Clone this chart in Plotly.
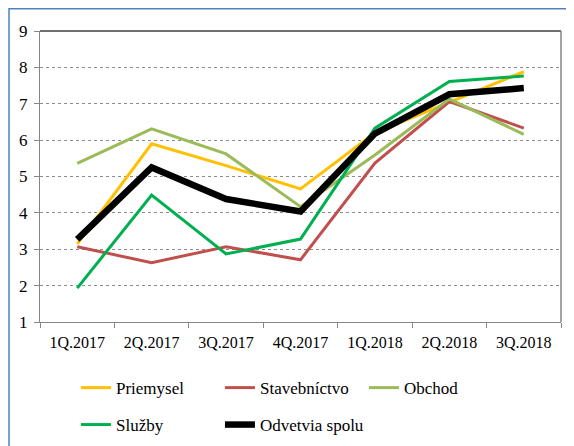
import plotly.graph_objects as go

categories = ["1Q.2017", "2Q.2017", "3Q.2017", "4Q.2017", "1Q.2018", "2Q.2018", "3Q.2018"]
priemysel = [3.15, 5.90, 5.30, 4.66, 6.20, 7.05, 7.88]
stavebnictvo = [3.07, 2.63, 3.07, 2.71, 5.37, 7.06, 6.33]
obchod = [5.36, 6.31, 5.62, 4.17, 5.59, 7.13, 6.16]
sluzby = [1.93, 4.49, 2.87, 3.28, 6.33, 7.61, 7.76]
spolu = [3.27, 5.25, 4.38, 4.04, 6.18, 7.26, 7.43]

series = [
    ("Priemysel", priemysel, "#FFC000", 3, "legend"),
    ("Stavebníctvo", stavebnictvo, "#C0504D", 3, "legend"),
    ("Obchod", obchod, "#9BBB59", 3, "legend"),
    ("Služby", sluzby, "#00B050", 3, "legend2"),
    ("Odvetvia spolu", spolu, "#000000", 6.5, "legend2"),
]

FONT = "Liberation Serif"

fig = go.Figure()
for name, vals, color, width, leg in series:
    fig.add_trace(go.Scatter(
        x=categories, y=vals, name=name, mode="lines",
        line=dict(color=color, width=width),
        legend=leg,
    ))

legend_common = dict(
    orientation="h", xanchor="left", yanchor="middle",
    entrywidth=99, entrywidthmode="pixels",
    font=dict(family=FONT, size=17, color="#000000"),
    bgcolor="rgba(0,0,0,0)", borderwidth=0, itemwidth=30,
)

# the page body adds an 8px offset, so margins are reduced by 8px on left/top
fig.update_layout(
    template="none",
    width=574, height=446,
    margin=dict(l=32, r=21, t=23, b=132, autoexpand=False),
    paper_bgcolor="#FFFFFF", plot_bgcolor="#FFFFFF",
    font=dict(family=FONT, size=16, color="#000000"),
    showlegend=True,
    legend=dict(x=0.069, y=-0.227, **legend_common),
    legend2=dict(x=0.069, y=-0.354, **legend_common),
)
fig.update_xaxes(
    type="category", tickson="boundaries", ticks="outside", ticklen=5,
    tickcolor="#868686", showline=True, linecolor="#868686", linewidth=1,
    showgrid=False, tickfont=dict(family=FONT, size=16, color="#000000"),
    ticklabelstandoff=6, range=[-0.5, 6.5], automargin=False, zeroline=False,
)
fig.update_yaxes(
    range=[1, 9], dtick=1, ticks="outside", ticklen=5, tickcolor="#868686",
    showline=True, linecolor="#868686", linewidth=1,
    showgrid=True, gridcolor="#8C8C8C", griddash="dot", gridwidth=1,
    tickfont=dict(family=FONT, size=17, color="#000000"), ticklabelstandoff=3,
    zeroline=False, automargin=False,
)
fig.update_layout(shapes=[
    dict(type="line", xref="paper", yref="paper", x0=0, x1=1, y0=1, y1=1,
         line=dict(color="#404040", width=1.5)),
    dict(type="line", xref="paper", yref="paper", x0=1, x1=1, y0=0, y1=1,
         line=dict(color="#868686", width=1.5)),
    dict(type="rect", xref="paper", yref="paper", x0=-0.0595, x1=1.2, y0=-0.6, y1=1.0765,
         line=dict(color="#4F81BD", width=1.5), layer="below"),
])

fig.write_html("out.html")
